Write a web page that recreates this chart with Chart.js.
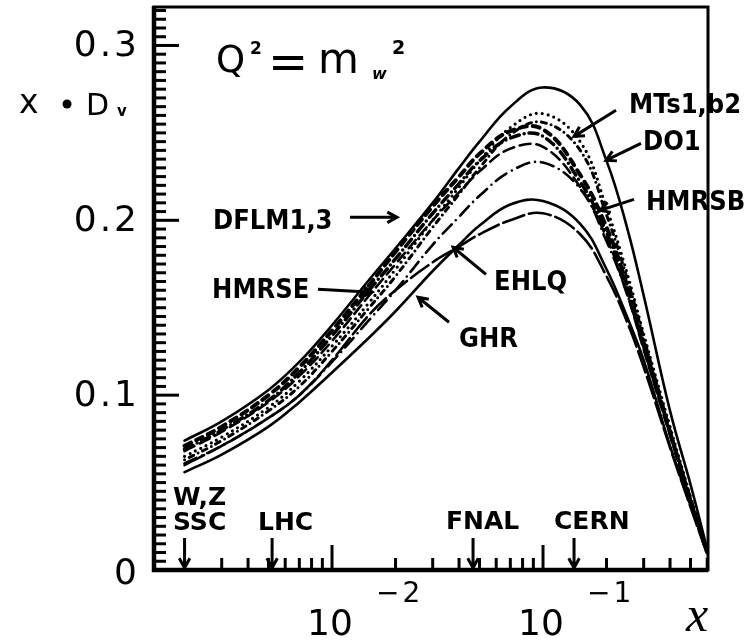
<!DOCTYPE html>
<html lang="en">
<head>
<meta charset="UTF-8">
<title>x Dv at Q2 = mW2</title>
<script src="https://cdn.jsdelivr.net/npm/chart.js@4.4.0/dist/chart.umd.min.js"></script>
<style>
  body { margin: 0; background: #fff; }
  #wrap { width: 752px; height: 644px; }
</style>
</head>
<body>
<div id="wrap"><canvas id="chart" width="752" height="644"></canvas></div>
<script>
const xs = [0.002, 0.003, 0.005, 0.007, 0.01, 0.015, 0.02, 0.03, 0.04, 0.05, 0.07, 0.1, 0.15, 0.2, 0.25, 0.3, 0.4, 0.5, 0.6];

const DO1   = [0.074, 0.085, 0.103, 0.119, 0.140, 0.166, 0.184, 0.210, 0.230, 0.245, 0.265, 0.276, 0.266, 0.234, 0.196, 0.157, 0.091, 0.049, 0.012];
const MTS1  = [0.065, 0.076, 0.093, 0.108, 0.128, 0.153, 0.172, 0.200, 0.219, 0.234, 0.253, 0.261, 0.245, 0.207, 0.170, 0.135, 0.082, 0.042, 0.010];
const MTB2  = [0.063, 0.074, 0.091, 0.105, 0.125, 0.150, 0.168, 0.196, 0.215, 0.230, 0.249, 0.256, 0.240, 0.203, 0.167, 0.133, 0.080, 0.041, 0.010];
const DFLM1 = [0.071, 0.082, 0.100, 0.116, 0.137, 0.163, 0.182, 0.208, 0.225, 0.238, 0.251, 0.252, 0.226, 0.196, 0.163, 0.130, 0.079, 0.040, 0.010];
const DFLM3 = [0.069, 0.080, 0.097, 0.113, 0.134, 0.160, 0.178, 0.204, 0.221, 0.234, 0.247, 0.248, 0.222, 0.193, 0.161, 0.128, 0.078, 0.040, 0.010];
const HMRSE = [0.068, 0.079, 0.096, 0.111, 0.131, 0.157, 0.175, 0.200, 0.216, 0.228, 0.241, 0.242, 0.219, 0.190, 0.158, 0.126, 0.077, 0.039, 0.010];
const HMRSB = [0.061, 0.071, 0.087, 0.100, 0.119, 0.143, 0.160, 0.186, 0.202, 0.214, 0.228, 0.233, 0.218, 0.188, 0.158, 0.127, 0.078, 0.040, 0.010];
const EHLQ  = [0.060, 0.071, 0.087, 0.100, 0.120, 0.146, 0.160, 0.176, 0.185, 0.192, 0.200, 0.204, 0.192, 0.168, 0.142, 0.116, 0.070, 0.036, 0.009];
const GHR   = [0.056, 0.066, 0.082, 0.096, 0.113, 0.133, 0.148, 0.171, 0.186, 0.197, 0.209, 0.211, 0.198, 0.172, 0.145, 0.120, 0.071, 0.037, 0.010];

// axes
const xMin = 0.001433, xMax = 0.6053;
const yMin = 0, yMax = 0.322;
const yTickValues = [0, 0.1, 0.2, 0.3];
const yTickLabels = ['0', '0.1', '0.2', '0.3'];
const xTickValues = [0.01, 0.1];
const xTickExps = ['\u22122', '\u22121'];

// curve labels and their arrows (data coordinates)
const labelTexts = ['DFLM1,3', 'HMRSE', 'MTs1,b2', 'DO1', 'HMRSB', 'EHLQ', 'GHR'];
const labelX = [0.00273, 0.0027, 0.2556, 0.2979, 0.3078, 0.0586, 0.040];
const labelY = [0.1949, 0.1554, 0.2611, 0.2400, 0.2057, 0.1600, 0.1274];
const arrowFrom = [[0.01217, 0.2017], [0.00858, 0.1606], [0.2218, 0.2629], [0.2913, 0.2440], [0.2700, 0.2120], [0.0537, 0.1691], [0.03584, 0.1417]];
const arrowTo   = [[0.02032, 0.2017], [0.01547, 0.1589], [0.1403, 0.2480], [0.1988, 0.2343], [0.1862, 0.2057], [0.03747, 0.1846], [0.02556, 0.1560]];

// colliders along the bottom
const machineTexts = ['W,Z', 'SSC', 'LHC', 'FNAL', 'CERN'];
const machineX = [0.001763, 0.001763, 0.004459, 0.03469, 0.1127];
const machineY = [0.0371, 0.0229, 0.0229, 0.0234, 0.0234];
const machineArrowX = [0.002, 0.0052, 0.0466, 0.1403];
const machineArrowTop = 0.0183, machineArrowTip = 0.0012;

const series = [
  { label: 'DO1',   data: DO1,   width: 2.6, dash: [] },
  { label: 'MTs1',  data: MTS1,  width: 3.2, dash: [0, 6] },
  { label: 'MTb2',  data: MTB2,  width: 3.0, dash: [0, 5, 5, 5] },
  { label: 'DFLM1', data: DFLM1, width: 4.0, dash: [7, 6] },
  { label: 'DFLM3', data: DFLM3, width: 3.5, dash: [9, 5, 0, 5] },
  { label: 'HMRSE', data: HMRSE, width: 2.6, dash: [11, 6] },
  { label: 'HMRSB', data: HMRSB, width: 2.6, dash: [13, 6, 0, 6] },
  { label: 'EHLQ',  data: EHLQ,  width: 2.6, dash: [22, 5] },
  { label: 'GHR',   data: GHR,   width: 2.6, dash: [] }
];

const datasets = series.map(s => ({
  label: s.label,
  data: xs.map((x, i) => ({ x: x, y: s.data[i] })),
  borderColor: '#000',
  borderWidth: s.width,
  borderDash: s.dash,
  borderCapStyle: 'round',
  pointRadius: 0,
  fill: false,
  tension: 0.4
}));

function arrow(ctx, x1, y1, x2, y2) {
  const a = Math.atan2(y2 - y1, x2 - x1);
  const h = 11, s = 0.5;
  ctx.beginPath();
  ctx.moveTo(x1, y1);
  ctx.lineTo(x2, y2);
  ctx.moveTo(x2 - h * Math.cos(a - s), y2 - h * Math.sin(a - s));
  ctx.lineTo(x2, y2);
  ctx.lineTo(x2 - h * Math.cos(a + s), y2 - h * Math.sin(a + s));
  ctx.stroke();
}

const decorations = {
  id: 'decorations',
  afterDraw(chart) {
    const { ctx, chartArea, scales } = chart;
    const { left, right, top, bottom } = chartArea;
    const x = scales.x, y = scales.y;
    ctx.save();
    ctx.strokeStyle = '#000';
    ctx.fillStyle = '#000';
    ctx.lineCap = 'butt';

    // frame
    ctx.lineWidth = 3;
    ctx.strokeRect(left, top, right - left, bottom - top);
    ctx.lineWidth = 4.5;
    ctx.beginPath();
    ctx.moveTo(left, top - 1);
    ctx.lineTo(left, bottom);
    ctx.lineTo(right, bottom);
    ctx.stroke();

    // y ticks (inside)
    ctx.lineWidth = 3;
    for (let k = 0; k <= 64; k++) {
      const v = k * 0.005;
      if (v > yMax) break;
      const py = y.getPixelForValue(v);
      const len = k % 20 === 0 ? 25 : 12;
      ctx.beginPath();
      ctx.moveTo(left, py);
      ctx.lineTo(left + len, py);
      ctx.stroke();
    }
    // x ticks (inside)
    for (let e = -3; e <= -1; e++) {
      for (let m = 1; m <= 9; m++) {
        const v = m * Math.pow(10, e);
        if (v <= xMin || v >= xMax) continue;
        const px = x.getPixelForValue(v);
        const len = m === 1 ? 25 : 12;
        ctx.beginPath();
        ctx.moveTo(px, bottom);
        ctx.lineTo(px, bottom - len);
        ctx.stroke();
      }
    }

    // y tick labels
    ctx.font = '36px "DejaVu Sans"';
    ctx.letterSpacing = '3px';
    ctx.textAlign = 'right';
    ctx.textBaseline = 'middle';
    yTickValues.forEach((v, i) => {
      ctx.fillText(yTickLabels[i], left - 14, y.getPixelForValue(v) + (v === 0 ? 5 : 1));
    });
    ctx.letterSpacing = '0px';

    // x tick labels 10^-2, 10^-1
    ctx.textBaseline = 'alphabetic';
    xTickValues.forEach((v, i) => {
      const px = x.getPixelForValue(v);
      ctx.font = '36px "DejaVu Sans"';
      ctx.textAlign = 'center';
      ctx.fillText('10', px - 2, bottom + 65);
      ctx.font = '28px "DejaVu Sans"';
      ctx.textAlign = 'left';
      ctx.letterSpacing = '3px';
      ctx.fillText(xTickExps[i], px + 44, bottom + 32);
      ctx.letterSpacing = '0px';
    });
    ctx.font = 'italic 50px "Liberation Serif"';
    ctx.textAlign = 'left';
    ctx.fillText('x', right - 22, bottom + 61);

    // y title  x * D_v
    ctx.font = '33px "DejaVu Sans"';
    ctx.fillText('x', 19, 113);
    ctx.beginPath();
    ctx.arc(67, 104, 4.5, 0, Math.PI * 2);
    ctx.fill();
    ctx.font = '30px "DejaVu Sans"';
    ctx.fillText('D', 86, 115);
    ctx.font = 'bold 15px "DejaVu Sans"';
    ctx.fillText('v', 117, 116);

    // Q^2 = m_w^2
    ctx.font = '37px "DejaVu Sans"';
    ctx.fillText('Q', 216, 72);
    ctx.font = 'bold 17px "DejaVu Sans"';
    ctx.fillText('2', 250, 54);
    ctx.font = '48px "DejaVu Sans"';
    ctx.fillText('=', 268, 78);
    ctx.font = '42px "DejaVu Sans"';
    ctx.fillText('m', 318, 73);
    ctx.font = 'bold italic 16px "DejaVu Sans"';
    ctx.fillText('w', 372, 79);
    ctx.font = 'bold 19px "DejaVu Sans"';
    ctx.fillText('2', 392, 54);

    // curve labels and arrows
    ctx.font = 'bold 27px "DejaVu Sans"';
    ctx.fontStretch = 'condensed';
    labelTexts.forEach((t, i) => {
      ctx.fillText(t, x.getPixelForValue(labelX[i]), y.getPixelForValue(labelY[i]));
    });
    ctx.lineWidth = 3;
    arrowFrom.forEach((f, i) => {
      const t = arrowTo[i];
      arrow(ctx, x.getPixelForValue(f[0]), y.getPixelForValue(f[1]),
                 x.getPixelForValue(t[0]), y.getPixelForValue(t[1]));
    });

    // colliders
    ctx.font = 'bold 25px "DejaVu Sans"';
    machineTexts.forEach((t, i) => {
      ctx.fillText(t, x.getPixelForValue(machineX[i]), y.getPixelForValue(machineY[i]));
    });
    machineArrowX.forEach(v => {
      const px = x.getPixelForValue(v);
      arrow(ctx, px, y.getPixelForValue(machineArrowTop), px, y.getPixelForValue(machineArrowTip));
    });
    ctx.restore();
  }
};

new Chart(document.getElementById('chart').getContext('2d'), {
  type: 'line',
  data: { datasets: datasets },
  options: {
    responsive: false,
    devicePixelRatio: 1,
    animation: false,
    layout: { padding: { left: 154, right: 44, top: 7, bottom: 74 } },
    plugins: { legend: { display: false }, tooltip: { enabled: false } },
    scales: {
      x: { type: 'logarithmic', min: xMin, max: xMax, display: false },
      y: { type: 'linear', min: yMin, max: yMax, display: false }
    }
  },
  plugins: [decorations]
});
</script>
</body>
</html>
